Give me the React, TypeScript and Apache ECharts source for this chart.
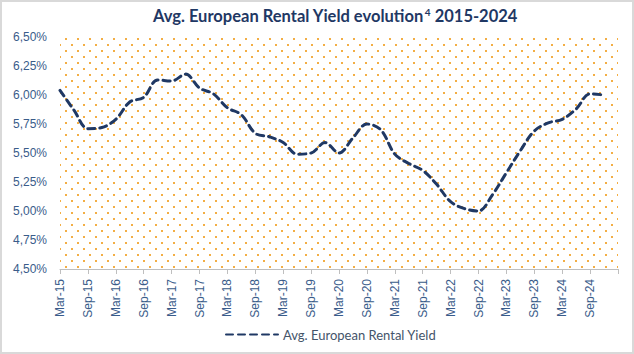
import React, { useEffect, useRef } from "react";
import * as echarts from "echarts";

const categories = [
  "Mar-15", "Jun-15", "Sep-15", "Dec-15",
  "Mar-16", "Jun-16", "Sep-16", "Dec-16",
  "Mar-17", "Jun-17", "Sep-17", "Dec-17",
  "Mar-18", "Jun-18", "Sep-18", "Dec-18",
  "Mar-19", "Jun-19", "Sep-19", "Dec-19",
  "Mar-20", "Jun-20", "Sep-20", "Dec-20",
  "Mar-21", "Jun-21", "Sep-21", "Dec-21",
  "Mar-22", "Jun-22", "Sep-22", "Dec-22",
  "Mar-23", "Jun-23", "Sep-23", "Dec-23",
  "Mar-24", "Jun-24", "Sep-24", "Dec-24",
  "Mar-25",
];

const rentalYield = [
  6.04, 5.87, 5.71, 5.72,
  5.79, 5.94, 5.98, 6.13,
  6.12, 6.18, 6.06, 6.01,
  5.89, 5.83, 5.67, 5.64,
  5.59, 5.49, 5.5, 5.59,
  5.5, 5.63, 5.75, 5.7,
  5.49, 5.41, 5.35, 5.23,
  5.08, 5.02, 5.0, 5.14,
  5.33, 5.52, 5.69, 5.76,
  5.79, 5.88, 6.01, 6.0,
];

const seriesName = "Avg. European Rental Yield";
const yMin = 4.5;
const yMax = 6.5;
const yStep = 0.25;

export default function App() {
  const ref = useRef<HTMLDivElement>(null);

  useEffect(() => {
    if (!ref.current) return;
    const chart = echarts.init(ref.current, null, { renderer: "svg" });

    const tile = document.createElement("canvas");
    tile.width = 12;
    tile.height = 12;
    const ctx = tile.getContext("2d");
    if (ctx) {
      ctx.fillStyle = "#F3AE45";
      ctx.fillRect(5, 2, 2, 2);
      ctx.fillRect(11, 8, 1, 2);
      ctx.fillRect(0, 8, 1, 2);
    }

    const axisColor = "#3A5C8A";
    const navy = "#1F3864";

    chart.setOption({
      animation: false,
      title: {
        text: "{a|Avg. European Rental Yield evolution}{sup|4}{a| 2015-2024}",
        left: 148,
        top: 2,
        textStyle: {
          rich: {
            a: {
              fontFamily: "Lato",
              fontWeight: "bold",
              fontSize: 16.5,
              color: navy,
            },
            sup: {
              fontFamily: "Lato",
              fontWeight: "bold",
              fontSize: 10,
              color: navy,
              verticalAlign: "top",
              padding: [0, 0, 8, 1],
            },
          },
        },
      },
      legend: {
        data: [seriesName],
        left: 220,
        bottom: 8,
        itemWidth: 52,
        itemHeight: 10,
        itemGap: 4,
        itemStyle: { color: "transparent", borderWidth: 0, opacity: 0 },
        textStyle: {
          fontFamily: "Lato",
          fontSize: 13,
          color: "#44546A",
        },
      },
      grid: {
        left: 60,
        right: 16,
        top: 37,
        bottom: 85,
        show: true,
        borderWidth: 0,
        backgroundColor: { image: tile, repeat: "repeat" },
      },
      xAxis: {
        type: "category",
        data: categories,
        boundaryGap: false,
        axisLine: { lineStyle: { color: "#BFBFBF", width: 1 } },
        axisTick: {
          length: 5,
          lineStyle: { color: "#BFBFBF" },
          interval: (i: number) => i % 2 === 0,
        },
        axisLabel: {
          rotate: 90,
          margin: 10,
          color: axisColor,
          fontFamily: "Liberation Sans",
          fontSize: 12,
          interval: (i: number) => i % 2 === 0 && i < 40,
        },
        splitLine: { show: false },
      },
      yAxis: {
        type: "value",
        min: yMin,
        max: yMax,
        interval: yStep,
        axisLine: { show: false },
        axisTick: { show: false },
        splitLine: { show: false },
        axisLabel: {
          margin: 13,
          color: axisColor,
          fontFamily: "Liberation Sans",
          fontSize: 12,
          formatter: (v: number) => v.toFixed(2).replace(".", ",") + "%",
        },
      },
      series: [
        {
          name: seriesName,
          type: "line",
          data: rentalYield,
          smooth: 0.35,
          symbol: "none",
          lineStyle: {
            color: navy,
            width: 3,
            type: [7, 5],
            cap: "round",
          },
          itemStyle: { color: navy },
        },
      ],
      graphic: [
        {
          type: "rect",
          shape: { x: 1, y: 1, width: 632, height: 352 },
          style: { fill: "none", stroke: "#D9D9D9", lineWidth: 2 },
          silent: true,
        },
      ],
    });

    return () => chart.dispose();
  }, []);

  return (
    <div
      ref={ref}
      style={{ position: "fixed", left: 0, top: 0, width: 634, height: 354, background: "#fff" }}
    />
  );
}
